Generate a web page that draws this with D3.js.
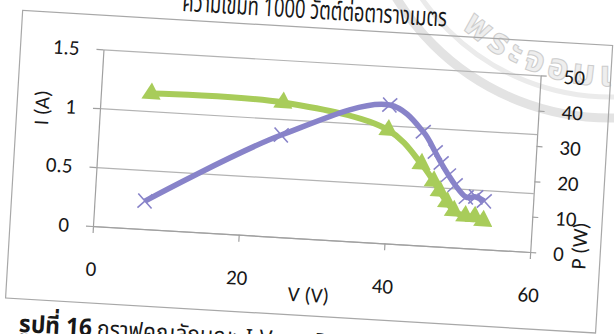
<!DOCTYPE html>
<meta charset="utf-8">

<!-- Load d3.js -->
<script src="https://d3js.org/d3.v7.min.js"></script>

<style>
  body { margin: 0; background: #fff; }
</style>

<div id="my_dataviz"></div>

<script>

// data
var voltage = [6.9, 25.0, 39.6, 44.4, 46.2, 47.1, 48.2, 49.2, 50.8, 52.1, 53.3]
var current = [1.15, 1.14, 0.96, 0.69, 0.55, 0.47, 0.38, 0.31, 0.27, 0.27, 0.24]
var power = [7.9, 28.8, 39.1, 32.1, 26.6, 23.6, 20.3, 17.6, 14.4, 14.6, 13.6]

var xTicks = [0, 20, 40, 60]
var iTicks = [0, 0.5, 1, 1.5]
var pTicks = [0, 10, 20, 30, 40, 50]

var titleText = "ความเข้มที่ 1000 วัตต์ต่อตารางเมตร"
var captionBold = "รูปที่ 16"
var captionText = "กราฟคุณลักษณะ I-V และ P-V"
var watermarkText = "พระจอมเกล้า"

// page size and plot size
var width = 614,
    height = 334,
    W = 438,
    H = 177

var thai = "'Noto Sans Thai', 'Noto Serif Thai', Tahoma, sans-serif"
var ink = "#181818"
var green = "#a8cc5a"
var purple = "#8883c9"

var svg = d3.select("#my_dataviz")
  .append("svg")
    .attr("width", width)
    .attr("height", height)
    .style("font-family", "Carlito, Lato, 'Open Sans', sans-serif")

svg.append("rect").attr("width", width).attr("height", height).attr("fill", "#fff")

// faint seal watermark, its centre is off the page at the top right
var wcx = 610, wcy = -132
function onCircle(r, deg) {
  var a = deg * Math.PI / 180
  return [wcx + r * Math.cos(a), wcy + r * Math.sin(a)]
}
var wm = svg.append("g")
wm.append("circle").attr("cx", wcx).attr("cy", wcy).attr("r", 250)
  .attr("fill", "none").attr("stroke", "#e3e3e3").attr("stroke-width", 9)
wm.append("circle").attr("cx", wcx).attr("cy", wcy).attr("r", 229)
  .attr("fill", "none").attr("stroke", "#ebebeb").attr("stroke-width", 5)
var p0 = onCircle(218, 133), p1 = onCircle(218, 40)
wm.append("path").attr("id", "wmPath")
  .attr("d", "M" + p0 + " A218,218 0 0 0 " + p1)
  .attr("fill", "none")
wm.append("text")
  .style("font-family", thai)
  .style("font-size", "36px")
  .style("font-weight", 700)
  .style("letter-spacing", "5px")
  .attr("fill", "#eeeeee")
  .attr("stroke", "#cdcdcd")
  .attr("stroke-width", 1)
  .append("textPath")
    .attr("href", "#wmPath")
    .text(watermarkText)

// the scan is tilted a little, so the whole chart sits in a rotated group
var page = svg.append("g")
  .attr("transform", "translate(93,226) rotate(3.4) translate(0," + (-H) + ")")

// chart area border
page.append("rect")
  .attr("x", -83).attr("y", -34).attr("width", 591).attr("height", 288)
  .attr("fill", "none").attr("stroke", "#a8a8a8").attr("stroke-width", 1.2)

// title line above the chart (cut by the top of the scan)
page.append("text")
  .attr("x", 76).attr("y", -43)
  .attr("textLength", 265)
  .attr("lengthAdjust", "spacingAndGlyphs")
  .style("font-family", thai)
  .style("font-size", "26px")
  .attr("fill", ink)
  .text(titleText)

// caption below the chart (cut by the bottom of the scan)
page.append("text")
  .attr("x", -68).attr("y", 287)
  .attr("textLength", 73)
  .attr("lengthAdjust", "spacingAndGlyphs")
  .style("font-family", thai)
  .style("font-size", "24px")
  .style("font-weight", 700)
  .attr("fill", ink)
  .text(captionBold)
page.append("text")
  .attr("x", 10).attr("y", 287)
  .attr("textLength", 250)
  .attr("lengthAdjust", "spacingAndGlyphs")
  .style("font-family", thai)
  .style("font-size", "23px")
  .attr("fill", ink)
  .text(captionText)

// scales
var x = d3.scaleLinear().domain([0, 60]).range([0, W])
var yI = d3.scaleLinear().domain([0, 1.5]).range([H, 0])
var yP = d3.scaleLinear().domain([0, 50]).range([H, 0])

// gridlines
page.append("g")
  .call(d3.axisLeft(yI).tickValues(iTicks).tickSize(-W).tickFormat(""))
  .call(function(g) { g.select(".domain").remove() })
  .selectAll("line").attr("stroke", "#b3b3b3").attr("stroke-width", 1.2)

function styleAxis(g) {
  g.select(".domain").attr("stroke", "#a0a0a0").attr("stroke-width", 1.2)
  g.selectAll(".tick line").attr("stroke", "#a0a0a0").attr("stroke-width", 1.2)
  g.selectAll("text").attr("fill", ink).style("font-size", "21px")
    .style("font-family", "Carlito, Lato, 'Open Sans', sans-serif")
}

// left axis: current
page.append("g")
  .call(d3.axisLeft(yI).tickValues(iTicks).tickSize(7).tickSizeOuter(0).tickPadding(17).tickFormat(d3.format("")))
  .call(styleAxis)

// right axis: power
page.append("g")
  .attr("transform", "translate(" + W + ",0)")
  .call(d3.axisRight(yP).tickValues(pTicks).tickSize(6).tickSizeOuter(0).tickPadding(17))
  .call(styleAxis)

// bottom axis: voltage
page.append("g")
  .attr("transform", "translate(0," + H + ")")
  .call(d3.axisBottom(x).tickValues(xTicks).tickSize(7).tickSizeOuter(0).tickPadding(28))
  .call(styleAxis)

// axis titles
page.append("text")
  .attr("transform", "translate(-56,62) rotate(-90)")
  .attr("text-anchor", "middle").attr("dominant-baseline", "middle")
  .style("font-size", "21px").attr("fill", ink)
  .text("I (A)")
page.append("text")
  .attr("transform", "translate(489,168) rotate(-90)")
  .attr("text-anchor", "middle").attr("dominant-baseline", "middle")
  .style("font-size", "21px").attr("fill", ink)
  .text("P (W)")
page.append("text")
  .attr("x", W / 2).attr("y", H + 58)
  .attr("text-anchor", "middle").attr("dominant-baseline", "middle")
  .style("font-size", "21px").attr("fill", ink)
  .text("V (V)")

// current series: smooth green line with triangles
var iData = voltage.map(function(v, k) { return [v, current[k]] })
var pData = voltage.map(function(v, k) { return [v, power[k]] })

page.append("path")
  .datum(iData)
  .attr("fill", "none")
  .attr("stroke", green)
  .attr("stroke-width", 6)
  .attr("d", d3.line()
    .curve(d3.curveCatmullRom.alpha(0.5))
    .x(function(d) { return x(d[0]) })
    .y(function(d) { return yI(d[1]) }))

page.selectAll(".tri")
  .data(iData)
  .enter()
  .append("path")
    .attr("class", "tri")
    .attr("transform", function(d) { return "translate(" + x(d[0]) + "," + yI(d[1]) + ")" })
    .attr("d", d3.symbol().type(d3.symbolTriangle).size(160))
    .attr("fill", green)

// power series: smooth purple line with crosses
page.append("path")
  .datum(pData)
  .attr("fill", "none")
  .attr("stroke", purple)
  .attr("stroke-width", 5.5)
  .attr("d", d3.line()
    .curve(d3.curveCatmullRom.alpha(0.5))
    .x(function(d) { return x(d[0]) })
    .y(function(d) { return yP(d[1]) }))

page.selectAll(".cross")
  .data(pData)
  .enter()
  .append("path")
    .attr("class", "cross")
    .attr("transform", function(d) { return "translate(" + x(d[0]) + "," + yP(d[1]) + ") rotate(45)" })
    .attr("d", "M-10,0H10M0,-10V10")
    .attr("stroke", purple)
    .attr("stroke-width", 1.6)

</script>
